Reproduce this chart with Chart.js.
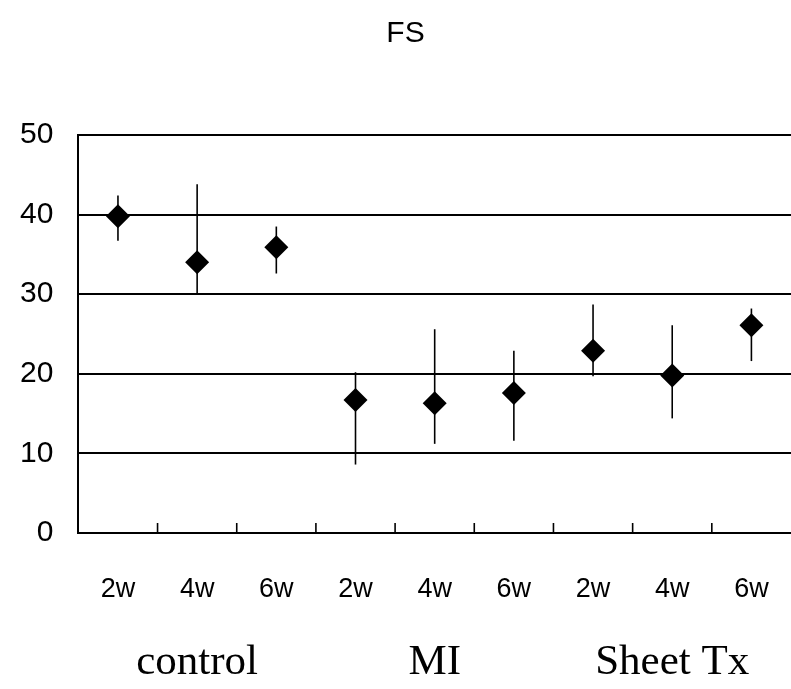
<!DOCTYPE html>
<html>
<head>
<meta charset="utf-8">
<script src="https://cdn.jsdelivr.net/npm/chart.js@4.4.0/dist/chart.umd.min.js"></script>
<style>
  html, body { margin: 0; padding: 0; background: #fff; overflow: hidden; }
  #wrap { width: 791px; height: 689px; position: relative; }
  #fsChart { display: block; }
</style>
</head>
<body>
<div id="wrap"><canvas id="fsChart"></canvas></div>
<script>
// data
var weeks = ['2w', '4w', '6w', '2w', '4w', '6w', '2w', '4w', '6w'];
var groups = ['control', 'MI', 'Sheet Tx'];
var fsMean = [39.8, 34.0, 35.9, 16.7, 16.3, 17.6, 22.9, 19.8, 26.1];
var fsUpper = [42.4, 43.8, 38.5, 20.2, 25.6, 22.9, 28.7, 26.1, 28.2];
var fsLower = [36.7, 30.0, 32.6, 8.6, 11.2, 11.6, 19.7, 14.4, 21.6];
var yTicks = [0, 10, 20, 30, 40, 50];

// vertical error bars + inward tick marks on x axis
var errorBars = {
    id: 'errorBars',
    beforeDatasetsDraw: function(chart) {
        var ctx = chart.ctx;
        var x = chart.scales.x, y = chart.scales.y;
        ctx.save();
        ctx.strokeStyle = '#000';
        ctx.lineWidth = 1.6;
        for (var i = 0; i < fsMean.length; i++) {
            var px = x.getPixelForValue(i);
            ctx.beginPath();
            ctx.moveTo(px, y.getPixelForValue(fsLower[i]));
            ctx.lineTo(px, y.getPixelForValue(fsUpper[i]));
            ctx.stroke();
        }
        var bottom = chart.chartArea.bottom;
        for (var j = 1; j < weeks.length; j++) {
            var tx = (x.getPixelForValue(j - 1) + x.getPixelForValue(j)) / 2;
            ctx.beginPath();
            ctx.moveTo(tx, bottom);
            ctx.lineTo(tx, bottom - 10);
            ctx.stroke();
        }
        ctx.restore();
    }
};

var ctx = document.getElementById('fsChart').getContext('2d');
var myChart = new Chart(ctx, {
    type: 'line',
    data: {
        labels: weeks,
        datasets: [{
            label: 'FS',
            data: fsMean,
            showLine: false,
            clip: false,
            pointStyle: 'rectRot',
            pointRadius: 12,
            pointHoverRadius: 12,
            backgroundColor: '#000',
            borderColor: '#000',
            borderWidth: 0
        }]
    },
    options: {
        responsive: true,
        maintainAspectRatio: false,
        animation: false,
        layout: {
            autoPadding: false,
            padding: { left: 17, right: -3, top: 0, bottom: 0 }
        },
        plugins: {
            legend: { display: false },
            tooltip: { enabled: false },
            title: {
                display: true,
                text: 'FS',
                color: '#000',
                font: { family: 'Liberation Sans', size: 30, weight: 'normal' },
                padding: { top: 16, bottom: 83 }
            }
        },
        scales: {
            x: {
                type: 'category',
                offset: true,
                grid: { display: false, drawTicks: true, tickLength: 36 },
                border: { color: '#000', width: 2 },
                ticks: {
                    color: '#000',
                    padding: 4,
                    font: { family: 'Liberation Sans', size: 27 }
                }
            },
            x2: {
                type: 'category',
                labels: groups,
                position: 'bottom',
                offset: true,
                grid: { display: false, drawTicks: true, tickLength: 28 },
                border: { display: false },
                ticks: {
                    color: '#000',
                    padding: 0,
                    font: { family: 'Liberation Serif', size: 43 }
                }
            },
            y: {
                min: 0,
                max: 50,
                afterBuildTicks: function(axis) {
                    axis.ticks = yTicks.map(function(v) { return { value: v }; });
                },
                grid: { color: '#000', lineWidth: 2, drawTicks: true, tickLength: 22, tickColor: 'rgba(0,0,0,0)' },
                border: { color: '#000', width: 2 },
                ticks: {
                    color: '#000',
                    padding: 3,
                    font: { family: 'Liberation Sans', size: 30 }
                }
            }
        }
    },
    plugins: [errorBars]
});
</script>
</body>
</html>
